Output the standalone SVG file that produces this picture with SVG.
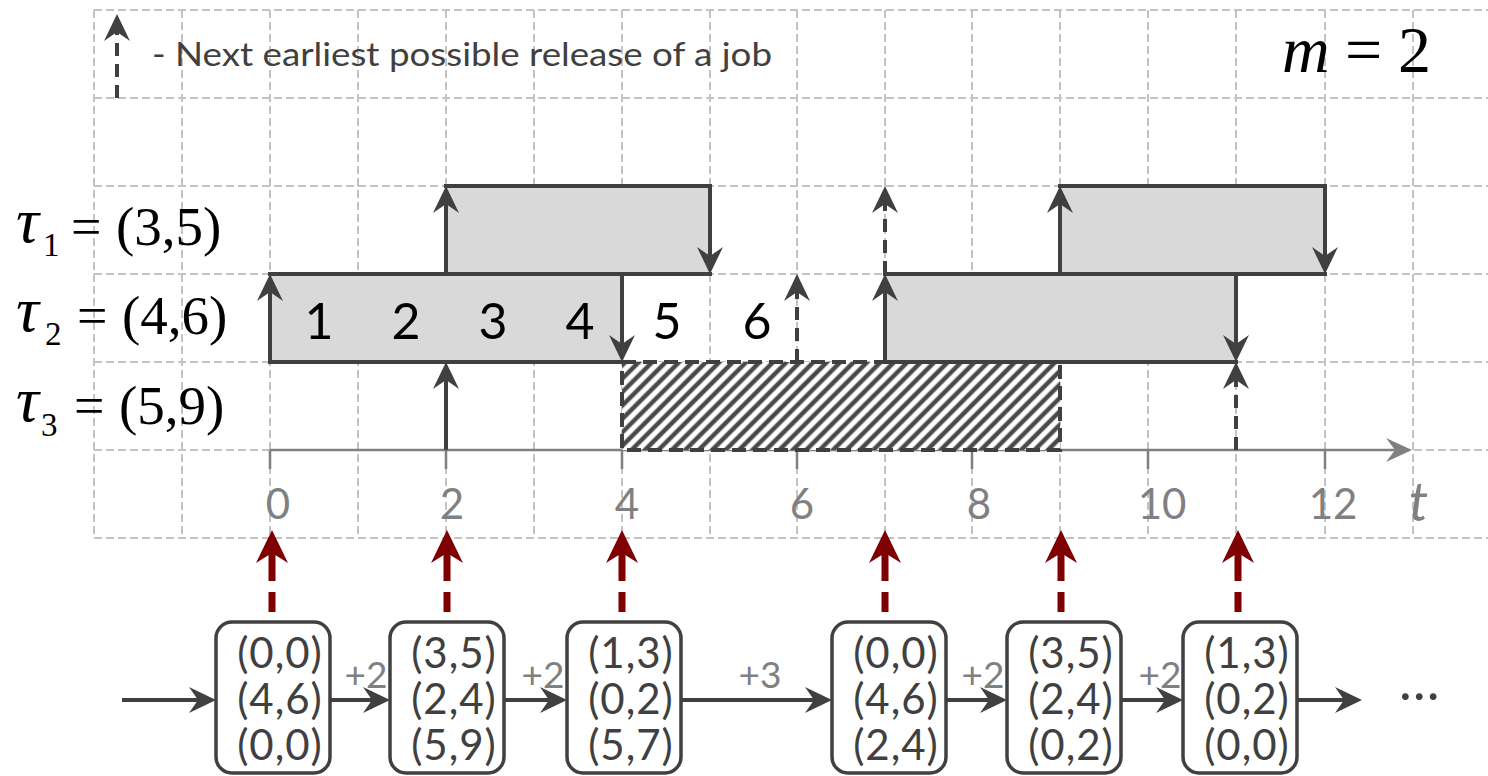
<svg xmlns="http://www.w3.org/2000/svg" width="1488" height="776" viewBox="0 0 1488 776">
  <defs>
    <style>
      .grid{stroke:#c3c3c3;stroke-width:2;stroke-dasharray:8 4;fill:none}
      .edge{stroke:#404040;stroke-width:4;fill:none}
      .cap{stroke:#404040;stroke-width:4;fill:none;stroke-linecap:square}
      .dash{stroke:#404040;stroke-width:4;fill:none;stroke-dasharray:13 8}
      .job{fill:#d9d9d9}
      .sans{font-family:Lato,"Open Sans","Liberation Sans",sans-serif}
      .serif{font-family:"Liberation Serif","Times New Roman",serif}
      .node rect{fill:#fff;stroke:#404040;stroke-width:3.5}
      .node text{font-family:Lato,"Open Sans","Liberation Sans",sans-serif;font-size:42px;fill:#404040;letter-spacing:1px;text-anchor:middle}
      .lbl{font-size:37px;fill:#808080;text-anchor:middle}
      .tick{font-size:42px;fill:#808080;text-anchor:middle}
      .num{font-size:50px;fill:#000;text-anchor:middle}
      .release{stroke:#7f0000;stroke-width:7;stroke-dasharray:20 11 100;fill:none}
      .flow{stroke:#404040;stroke-width:4;fill:none}
    </style>
    <marker id="ah" viewBox="-30 -15 34 30" refX="-6" refY="0" markerWidth="34" markerHeight="30" orient="auto" markerUnits="userSpaceOnUse">
      <path d="M0,0 L-27,-13 L-18,0 L-27,13 Z" fill="#404040"/>
    </marker>
    <marker id="axh" viewBox="-30 -15 34 30" refX="-6" refY="0" markerWidth="34" markerHeight="30" orient="auto" markerUnits="userSpaceOnUse">
      <path d="M0,0 L-26,-12 L-17,0 L-26,12 Z" fill="#808080"/>
    </marker>
    <marker id="rh" viewBox="-38 -20 42 40" refX="-8" refY="0" markerWidth="42" markerHeight="40" orient="auto" markerUnits="userSpaceOnUse">
      <path d="M0,0 L-33,-16 L-23,0 L-33,16 Z" fill="#7f0000"/>
    </marker>
    <pattern id="hatch" patternUnits="userSpaceOnUse" width="9.5" height="9.5" patternTransform="rotate(45)">
      <rect width="9.5" height="9.5" fill="#fff"/>
      <line x1="4.75" y1="0" x2="4.75" y2="9.5" stroke="#4a4a4a" stroke-width="4.5"/>
    </pattern>
  </defs>

  <rect width="1488" height="776" fill="#fff"/>

  <!-- background grid, one cell per time unit -->
  <g id="grid" class="grid">
    <path d="M94,10 V538 M182,10 V538 M270,10 V538 M358,10 V538 M446,10 V538 M534,10 V538 M622,10 V538 M710,10 V538 M797,10 V538 M885,10 V538 M972,10 V538 M1060,10 V538 M1148,10 V538 M1236,10 V538 M1325,10 V538 M1413,10 V538"/>
    <path d="M94,10 H1488 M94,98 H1488 M94,186 H1488 M94,274 H1488 M94,362 H1488 M94,450 H1488 M94,538 H1488"/>
  </g>

  <!-- legend -->
  <g id="legend">
    <line class="dash" x1="117" y1="98" x2="117" y2="20" marker-end="url(#ah)"/>
    <text class="sans" x="152" y="66" font-size="32" fill="#404040" textLength="620" lengthAdjust="spacingAndGlyphs">- Next earliest possible release of a job</text>
  </g>
  <g id="processors" class="serif" font-size="66" fill="#000">
    <text x="1282" y="72" font-style="italic">m</text>
    <text x="1345" y="72">=</text>
    <text x="1398" y="72">2</text>
  </g>

  <!-- task labels -->
  <g id="task-labels" class="serif" fill="#000">
    <text x="16" y="242" font-size="64" font-style="italic">τ</text>
    <text x="43" y="256" font-size="33">1</text>
    <text x="71" y="245" font-size="54">=</text>
    <text x="116" y="245" font-size="55">(3,5)</text>

    <text x="16" y="331" font-size="64" font-style="italic">τ</text>
    <text x="45" y="345" font-size="33">2</text>
    <text x="77" y="334" font-size="54">=</text>
    <text x="122" y="334" font-size="55">(4,6)</text>

    <text x="16" y="421" font-size="64" font-style="italic">τ</text>
    <text x="41" y="436" font-size="33">3</text>
    <text x="74" y="424" font-size="54">=</text>
    <text x="119" y="424" font-size="55">(5,9)</text>
  </g>

  <!-- time axis -->
  <g id="axis">
    <line x1="270" y1="450" x2="1406" y2="450" stroke="#808080" stroke-width="2.5" marker-end="url(#axh)"/>
    <path d="M270,450 V469 M446,450 V469 M622,450 V469 M797,450 V469 M972,450 V469 M1148,450 V469 M1325,450 V469" stroke="#808080" stroke-width="2.5"/>
    <g class="sans tick">
      <text x="278" y="519">0</text>
      <text x="452" y="519">2</text>
      <text x="627" y="519">4</text>
      <text x="802" y="519">6</text>
      <text x="979" y="519">8</text>
      <text x="1162" y="519">10</text>
      <text x="1333" y="519">12</text>
    </g>
    <text class="sans" x="1409" y="521" font-size="54" font-style="italic" fill="#808080">t</text>
  </g>

  <!-- tau3: blocked interval -->
  <g id="tau3-blocked">
    <rect x="622" y="362" width="438" height="88" fill="url(#hatch)" stroke="#404040" stroke-width="4" stroke-dasharray="14 7"/>
  </g>

  <!-- tau2, first job -->
  <g id="tau2-job1">
    <rect class="job" x="270" y="274" width="352" height="88"/>
    <path class="cap" d="M270,274 H622 M270,362 H622"/>
    <line class="edge" x1="270" y1="362" x2="270" y2="280" marker-end="url(#ah)"/>
    <line class="edge" x1="622" y1="274" x2="622" y2="356" marker-end="url(#ah)"/>
    <g class="sans num">
      <text x="319" y="339">1</text>
      <text x="406" y="339">2</text>
      <text x="493" y="339">3</text>
      <text x="580" y="339">4</text>
      <text x="667" y="339">5</text>
      <text x="757" y="339">6</text>
    </g>
  </g>

  <!-- tau1, first job -->
  <g id="tau1-job1">
    <rect class="job" x="446" y="186" width="264" height="88"/>
    <path class="cap" d="M446,186 H710 M446,274 H710"/>
    <line class="edge" x1="446" y1="274" x2="446" y2="192" marker-end="url(#ah)"/>
    <line class="edge" x1="710" y1="186" x2="710" y2="268" marker-end="url(#ah)"/>
  </g>

  <!-- tau2, second job -->
  <g id="tau2-job2">
    <rect class="job" x="885" y="274" width="351" height="88"/>
    <path class="cap" d="M885,274 H1236 M885,362 H1236"/>
    <line class="edge" x1="885" y1="362" x2="885" y2="280" marker-end="url(#ah)"/>
    <line class="edge" x1="1236" y1="274" x2="1236" y2="356" marker-end="url(#ah)"/>
  </g>

  <!-- tau1, second job -->
  <g id="tau1-job2">
    <rect class="job" x="1060" y="186" width="265" height="88"/>
    <path class="cap" d="M1060,186 H1325 M1060,274 H1325"/>
    <line class="edge" x1="1060" y1="274" x2="1060" y2="192" marker-end="url(#ah)"/>
    <line class="edge" x1="1325" y1="186" x2="1325" y2="268" marker-end="url(#ah)"/>
  </g>

  <!-- releases that are not drawn as job boxes -->
  <g id="releases">
    <line class="edge" x1="446" y1="450" x2="446" y2="368" marker-end="url(#ah)"/>
    <line class="dash" x1="797" y1="362" x2="797" y2="280" marker-end="url(#ah)"/>
    <line class="dash" x1="885" y1="274" x2="885" y2="192" marker-end="url(#ah)"/>
    <line class="dash" x1="1236" y1="450" x2="1236" y2="368" marker-end="url(#ah)"/>
  </g>

  <!-- state nodes -->
  <g id="s0" class="node">
    <rect x="216" y="622" width="114" height="151" rx="16"/>
    <text x="280" y="668">(0,0)</text>
    <text x="280" y="714">(4,6)</text>
    <text x="280" y="760">(0,0)</text>
  </g>
  <g id="s1" class="node">
    <rect x="390" y="622" width="114" height="151" rx="16"/>
    <text x="454" y="668">(3,5)</text>
    <text x="454" y="714">(2,4)</text>
    <text x="454" y="760">(5,9)</text>
  </g>
  <g id="s2" class="node">
    <rect x="567" y="622" width="114" height="151" rx="16"/>
    <text x="631" y="668">(1,3)</text>
    <text x="631" y="714">(0,2)</text>
    <text x="631" y="760">(5,7)</text>
  </g>
  <g id="s3" class="node">
    <rect x="832" y="622" width="114" height="151" rx="16"/>
    <text x="896" y="668">(0,0)</text>
    <text x="896" y="714">(4,6)</text>
    <text x="896" y="760">(2,4)</text>
  </g>
  <g id="s4" class="node">
    <rect x="1007" y="622" width="114" height="151" rx="16"/>
    <text x="1071" y="668">(3,5)</text>
    <text x="1071" y="714">(2,4)</text>
    <text x="1071" y="760">(0,2)</text>
  </g>
  <g id="s5" class="node">
    <rect x="1183" y="622" width="114" height="151" rx="16"/>
    <text x="1247" y="668">(1,3)</text>
    <text x="1247" y="714">(0,2)</text>
    <text x="1247" y="760">(0,0)</text>
  </g>

  <!-- transitions and links from states to time instants -->
  <g id="connectors">
    <line class="flow" x1="122" y1="700" x2="210" y2="700" marker-end="url(#ah)"/>
    <line class="flow" x1="330" y1="700" x2="384" y2="700" marker-end="url(#ah)"/>
    <line class="flow" x1="504" y1="700" x2="561" y2="700" marker-end="url(#ah)"/>
    <line class="flow" x1="681" y1="700" x2="826" y2="700" marker-end="url(#ah)"/>
    <line class="flow" x1="946" y1="700" x2="1001" y2="700" marker-end="url(#ah)"/>
    <line class="flow" x1="1121" y1="700" x2="1177" y2="700" marker-end="url(#ah)"/>
    <line class="flow" x1="1297" y1="700" x2="1356" y2="700" marker-end="url(#ah)"/>
    <g class="sans lbl">
      <text x="366" y="688">+2</text>
      <text x="543" y="688">+2</text>
      <text x="760" y="688">+3</text>
      <text x="983" y="688">+2</text>
      <text x="1160" y="688">+2</text>
    </g>
    <text class="sans" x="1399" y="700" font-size="54" fill="#404040">…</text>
    <line class="release" x1="272" y1="612" x2="272" y2="538" marker-end="url(#rh)"/>
    <line class="release" x1="447" y1="612" x2="447" y2="538" marker-end="url(#rh)"/>
    <line class="release" x1="622" y1="612" x2="622" y2="538" marker-end="url(#rh)"/>
    <line class="release" x1="885" y1="612" x2="885" y2="538" marker-end="url(#rh)"/>
    <line class="release" x1="1061" y1="612" x2="1061" y2="538" marker-end="url(#rh)"/>
    <line class="release" x1="1238" y1="612" x2="1238" y2="538" marker-end="url(#rh)"/>
  </g>
</svg>
